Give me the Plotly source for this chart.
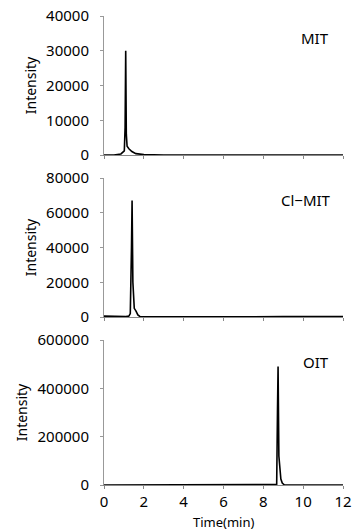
import plotly.graph_objects as go

# ---- data ----
mit_time = [0, 0.5, 0.85, 0.95, 1.02, 1.06, 1.09, 1.12, 1.16, 1.25, 1.4, 1.6, 1.8, 2.0, 3.0, 6.0, 9.0, 12]
mit_int = [0, 0, 300, 900, 1200, 8000, 30000, 6000, 2500, 1800, 1000, 400, 200, 100, 0, 0, 0, 0]

clmit_time = [0, 0.5, 0.9, 1.0, 1.1, 1.25, 1.32, 1.38, 1.41, 1.45, 1.52, 1.6, 1.7, 1.8, 2.5, 6.0, 9.0, 12]
clmit_int = [500, 400, 400, 0, 200, 500, 2000, 40000, 67000, 20000, 5000, 3500, 1200, 300, 200, 100, 200, 300]

oit_time = [0, 4.0, 8.6, 8.67, 8.71, 8.74, 8.78, 8.83, 8.88, 8.95, 9.05, 9.5, 12]
oit_int = [0, 0, 0, 2000, 300000, 490000, 120000, 50000, 25000, 8000, 1000, 0, 0]

labels = ["MIT", "Cl−MIT", "OIT"]
y_ranges = [[0, 40000], [0, 80000], [0, 600000]]
y_dticks = [10000, 20000, 200000]
x_ticks = [0, 2, 4, 6, 8, 10, 12]

W, H = 353, 532
font = "Noto Sans, Open Sans, sans-serif"

fig = go.Figure()

series = [(mit_time, mit_int), (clmit_time, clmit_int), (oit_time, oit_int)]
# pixel positions of panels (top, bottom)
panels_px = [(16, 155), (178, 317), (340, 485)]
x_left, x_right = 104, 343
label_right = [331, 333, 331]

for i, ((t, v), (top, bot)) in enumerate(zip(series, panels_px)):
    n = "" if i == 0 else str(i + 1)
    fig.add_trace(go.Scatter(x=t, y=v, mode="lines",
                             line=dict(color="black", width=1.6),
                             xaxis="x" + n, yaxis="y" + n, showlegend=False,
                             hoverinfo="skip"))
    fig.update_layout(**{
        "xaxis" + n: dict(domain=[x_left / W, x_right / W], range=[0, 12],
                          tickvals=x_ticks, showticklabels=(i == 2),
                          showline=True, linecolor="#888", linewidth=1,
                          ticks="outside", ticklen=3, tickcolor="#888",
                          showgrid=False, zeroline=False, anchor="y" + n,
                          automargin=False,
                          tickfont=dict(size=15, color="black", family=font)),
        "yaxis" + n: dict(domain=[1 - bot / H, 1 - top / H], range=y_ranges[i],
                          dtick=y_dticks[i], tickformat="d", showline=True,
                          linecolor="#999", automargin=False,
                          linewidth=1, ticks="outside", ticklen=3, tickcolor="#999",
                          ticklabelstandoff=8,
                          showgrid=False, zeroline=False, anchor="x" + n,
                          tickfont=dict(size=15, color="black", family=font),
                          title=dict(text="Intensity",
                                     font=dict(size=14, color="black", family=font),
                                     standoff=6)),
    })
    fig.add_annotation(text=labels[i], xref="paper", yref="paper",
                       x=label_right[i] / W, y=1 - (top + 22) / H,
                       xanchor="right", yanchor="middle", showarrow=False,
                       font=dict(size=15, color="black", family=font))

fig.add_annotation(text="Time(min)", xref="paper", yref="paper",
                   x=(x_left + x_right) / 2 / W, y=0,
                   xanchor="center", yanchor="bottom", showarrow=False,
                   borderpad=0,
                   font=dict(size=13, color="black", family=font))

fig.update_layout(width=W, height=H, margin=dict(l=0, r=0, t=0, b=0),
                  paper_bgcolor="white", plot_bgcolor="white")

fig.write_html("out.html", config={"displayModeBar": False},
               post_script="document.body.style.margin='0';document.body.style.overflow='hidden';")
